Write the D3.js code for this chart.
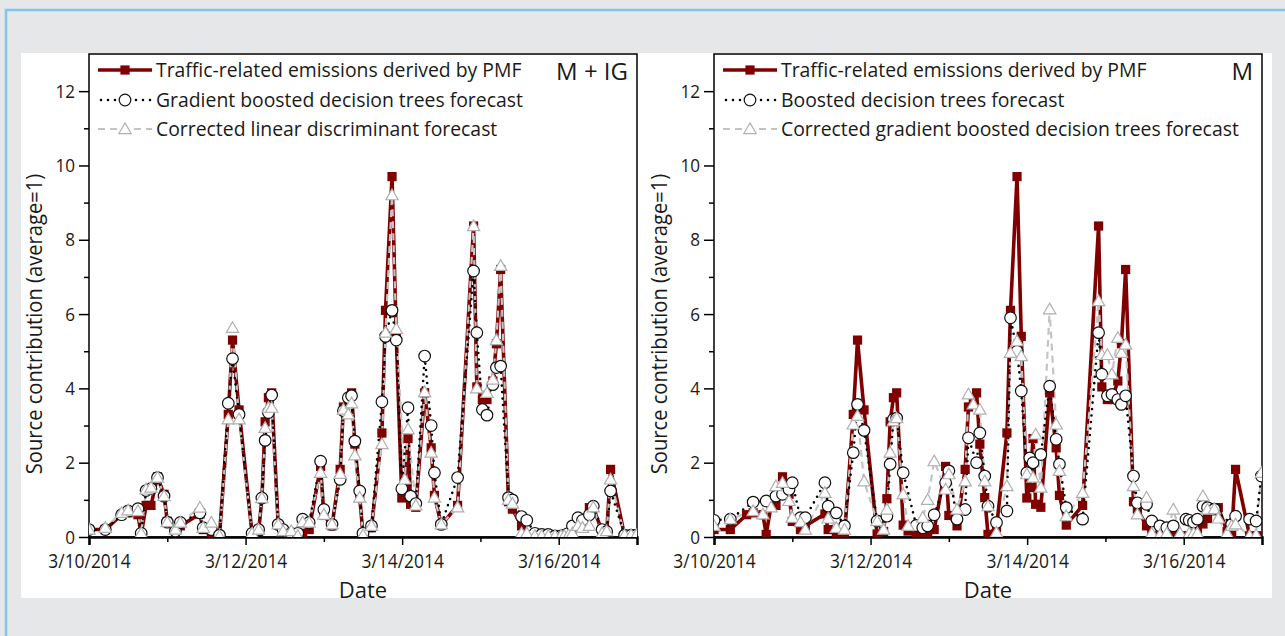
<!DOCTYPE html>
<html>
<head>
<meta charset="utf-8">
<script src="https://cdn.jsdelivr.net/npm/d3@7"></script>
<style>
  body { margin: 0; background: #e6e7e9; }
  text { font-family: "Open Sans", "Noto Sans", sans-serif; fill: #1a1a1a; }
</style>
</head>
<body>
<svg id="chart" width="1285" height="636"></svg>
<script>
// hours after 3/10/2014 00:00
const hours = [0, 5, 10, 12, 15, 16, 17.5, 19, 21, 23, 24, 26.5, 28, 34, 35, 37.5, 40, 42.7, 44, 46,
  50, 52, 53, 54, 55, 56, 58, 59.5, 62, 64, 65.5, 67.5, 71, 72, 74.5, 77, 78, 79.5, 80.5, 81.5,
  83, 84, 86.6, 89.8, 90.9, 92.9, 94.2, 95.9, 96.8, 97.8, 98.6, 100.2, 102.9, 104.9, 105.9, 108, 113, 117.9, 118.9, 120.6,
  122, 123.8, 124.9, 126.2, 128.6, 129.8, 132.6, 134.2, 136.7, 138.8, 140.8, 142.9, 144.7, 145.7, 147, 148.2, 149.9, 151.3, 153.4, 154.6,
  157.3, 158.7, 159.9, 164.2, 166.2, 167.8];

// traffic-related emissions derived by PMF (same in both panels)
const pmf = [0.2, 0.2, 0.6, 0.65, 0.6, 0.07, 0.85, 0.85, 1.62, 1.15, 0.42, 0.2, 0.3, 0.62, 0.2, 0.07, 0.03, 3.3, 5.3, 3.42,
  0.08, 0.15, 1.03, 3.1, 3.75, 3.88, 0.32, 0.16, 0.03, 0.03, 0.1, 0.2, 1.9, 0.58, 0.3, 1.82, 3.5, 3.6, 3.88, 2.5,
  1.06, 0.07, 0.25, 2.8, 6.1, 9.7, 5.4, 1.05, 1.33, 2.65, 0.88, 0.8, 3.88, 2.4, 1.12, 0.32, 0.85, 8.37, 4.04, 3.7,
  3.7, 4.2, 5.2, 7.2, 0.95, 0.75, 0.3, 0.03, 0.03, 0.03, 0.03, 0.03, 0.03, 0.03, 0.1, 0.2, 0.35, 0.5, 0.79, 0.79,
  0.15, 0.1, 1.82, 0.03, 0.03, 0.03];

// M + IG panel
const gbdtIG = [0.2, 0.2, 0.6, 0.7, 0.76, 0.1, 1.25, 1.3, 1.6, 1.1, 0.4, 0.16, 0.39, 0.65, 0.25, 0.2, 0.05, 3.6, 4.8, 3.3,
  0.1, 0.2, 1.05, 2.6, 3.35, 3.82, 0.34, 0.2, 0.1, 0.1, 0.48, 0.39, 2.04, 0.74, 0.34, 1.55, 3.4, 3.75, 3.8, 2.58,
  1.24, 0.1, 0.3, 3.64, 5.4, 6.1, 5.3, 1.3, null, 3.48, 1.1, 0.9, 4.87, 3.0, 1.73, 0.34, 1.6, 7.16, 5.5, 3.43,
  3.28, 4.1, 4.56, 4.6, 1.06, 1.0, 0.55, 0.45, 0.1, 0.07, 0.07, 0.03, 0.03, 0.05, 0.1, 0.3, 0.52, 0.45, 0.6, 0.83,
  0.2, 0.15, 1.24, 0.05, 0.05, 0.05];
const corrIG = [0.2, 0.25, 0.65, 0.72, 0.7, 0.1, 1.28, 1.33, 1.6, 1.1, 0.4, 0.2, 0.39, 0.79, 0.25, 0.39, 0.03, 3.17, 5.63, 3.17,
  0.1, 0.2, 1.05, 2.94, 3.48, 3.48, 0.34, 0.16, 0.16, 0.03, 0.4, 0.39, 1.73, 0.6, 0.34, 1.7, 3.43, 3.3, 3.6, 2.2,
  1.06, 0.05, 0.3, 2.5, 5.5, 9.2, 5.6, null, 1.55, 2.9, null, 0.85, 3.9, 2.27, 1.06, 0.34, 0.8, 8.37, 4.0, null,
  3.88, 4.24, 5.3, 7.3, 1.0, 0.9, 0.1, 0.1, 0.03, 0.03, 0.03, 0.03, 0.03, 0.03, 0.05, 0.1, 0.3, 0.25, 0.3, 0.8,
  0.1, 0.16, 1.55, 0.05, 0.05, 0.05];

// M panel
const bdtM = [0.45, 0.48, null, 0.94, null, 0.97, null, 1.1, 1.15, 1.28, 1.46, 0.52, 0.52, 1.46, 0.83, 0.65, 0.3, 2.27, 3.57, 2.87,
  0.43, null, 0.56, 1.96, 3.17, 3.2, 1.73, null, 0.31, 0.25, 0.3, 0.6, 1.46, 1.78, 0.48, 0.74, 2.67, null, 2.0, 2.8,
  1.64, 0.83, 0.39, 0.7, 5.9, 5.0, 3.93, 1.73, 2.13, 2.0, null, 2.22, 4.06, 2.63, 1.96, 0.79, 0.48, 5.5, 4.38, 3.8,
  3.84, 3.7, 3.57, 3.8, 1.64, 0.92, 0.88, 0.43, 0.3, 0.25, 0.3, null, 0.48, 0.45, 0.4, 0.48, 0.83, 0.79, 0.75, null,
  null, 0.34, 0.56, 0.48, 0.43, 1.64];
const corrM = [0.3, 0.48, null, 0.7, 0.61, null, 0.8, 1.37, 1.46, 0.97, 0.52, 0.4, 0.2, 1.19, 0.5, 0.25, 0.2, 3.03, 3.26, 1.5,
  0.43, 0.2, 0.74, 2.27, 3.12, 3.2, 1.15, 0.3, null, 0.52, 1.0, 2.04, 1.28, 1.69, 0.74, 1.5, 3.84, 3.57, null, 3.43,
  1.5, 0.83, 0.12, 1.37, 4.96, 5.27, 4.87, 1.69, null, 1.6, 2.76, 1.33, 6.13, 3.03, 1.78, 0.56, 1.19, 6.35, 4.9, 4.9,
  4.38, 5.36, 4.96, 5.18, 1.37, 0.61, 1.06, 0.1, 0.05, 0.1, 0.74, 0.1, null, 0.1, 0.1, 0.1, 1.1, 0.74, 0.75, 0.5,
  0.1, 0.3, 0.34, 0.03, 0.05, 1.73];

const yTicks = [0, 2, 4, 6, 8, 10, 12];
const xTickDates = ["2014-03-10", "2014-03-12", "2014-03-14", "2014-03-16"];
const xMinorDates = ["2014-03-11", "2014-03-13", "2014-03-15"];

const panels = [
  {left: 89, right: 637, tag: "M + IG",
   names: ["Traffic-related emissions derived by PMF", "Gradient boosted decision trees forecast", "Corrected linear discriminant forecast"],
   fc: gbdtIG, corr: corrIG},
  {left: 714, right: 1262, tag: "M",
   names: ["Traffic-related emissions derived by PMF", "Boosted decision trees forecast", "Corrected gradient boosted decision trees forecast"],
   fc: bdtM, corr: corrM}
];

const RED = "#800000", GREY = "#c4c4c4";
const t0 = new Date(2014, 2, 10);
const toDate = h => new Date(t0.getTime() + h * 3600e3);
const parse = d3.timeParse("%Y-%m-%d");
const fmt = d3.timeFormat("%-m/%-d/%Y");

// the original face is narrower than Open Sans: squeeze text horizontally
function squeeze(sel, k) {
  sel.each(function() {
    const w = this.getComputedTextLength();
    d3.select(this).attr("textLength", w * k).attr("lengthAdjust", "spacingAndGlyphs");
  });
}

const svg = d3.select("#chart");

// page frame
svg.append("rect").attr("width", 1285).attr("height", 636).attr("fill", "#e6e7e9");
svg.append("path").attr("d", "M6,636V10H1285").attr("fill", "none").attr("stroke", "#7cc8ee").attr("stroke-width", 2.5);
svg.append("rect").attr("x", 21).attr("y", 53).attr("width", 1251).attr("height", 545).attr("fill", "#fff");

const plotTop = 54, plotBottom = 537;
const y = d3.scaleLinear().domain([0, 13]).range([plotBottom, plotTop]);

const defs = svg.append("defs");

panels.forEach((p, pi) => {
  const x = d3.scaleTime().domain([t0, new Date(2014, 2, 17)]).range([p.left, p.right]);
  const g = svg.append("g");

  defs.append("clipPath").attr("id", "clip" + pi)
    .append("rect").attr("x", p.left).attr("y", plotTop).attr("width", p.right - p.left).attr("height", plotBottom - plotTop);

  // frame
  g.append("rect").attr("x", p.left).attr("y", plotTop).attr("width", p.right - p.left).attr("height", plotBottom - plotTop)
    .attr("fill", "none").attr("stroke", "#000").attr("stroke-width", 1.5);

  // y axis
  const yAx = g.append("g").attr("transform", "translate(" + p.left + ",0)")
    .call(d3.axisLeft(y).tickValues(yTicks).tickSize(10).tickPadding(4));
  yAx.select(".domain").remove();
  yAx.selectAll("line").attr("stroke-width", 1.5);
  yAx.selectAll("text").style("font-size", "19px").attr("fill", "#1a1a1a").call(squeeze, 0.9);
  g.append("g").attr("transform", "translate(" + p.left + ",0)")
    .call(d3.axisLeft(y).tickValues([1, 3, 5, 7, 9, 11]).tickSize(5).tickFormat(""))
    .call(a => a.select(".domain").remove())
    .selectAll("line").attr("stroke-width", 1.5);

  // x axis
  const xAx = g.append("g").attr("transform", "translate(0," + plotBottom + ")")
    .call(d3.axisBottom(x).tickValues(xTickDates.map(parse)).tickFormat(fmt).tickSize(8).tickPadding(9));
  xAx.select(".domain").attr("stroke-width", 2.5);
  xAx.selectAll("line").attr("stroke-width", 1.5);
  xAx.selectAll("text").style("font-size", "20px").attr("fill", "#1a1a1a").call(squeeze, 0.87);
  g.append("g").attr("transform", "translate(0," + plotBottom + ")")
    .call(d3.axisBottom(x).tickValues(xMinorDates.map(parse)).tickSize(5).tickFormat(""))
    .call(a => a.select(".domain").remove())
    .selectAll("line").attr("stroke-width", 1.5);

  // titles
  g.append("text").attr("x", (p.left + p.right) / 2).attr("y", 598)
    .attr("text-anchor", "middle").style("font-size", "22px").text("Date");
  g.append("text").attr("transform", "translate(" + (p.left - 47) + ",324) rotate(-90)")
    .attr("text-anchor", "middle").style("font-size", "21px").text("Source contribution (average=1)")
    .call(squeeze, 0.96);

  // data
  const plot = g.append("g").attr("clip-path", "url(#clip" + pi + ")");
  const pts = arr => hours.map((h, i) => ({t: toDate(h), v: arr[i]})).filter(d => d.v != null);
  const line = d3.line().x(d => x(d.t)).y(d => y(d.v));
  const dPmf = pts(pmf), dFc = pts(p.fc), dCorr = pts(p.corr);

  plot.append("path").datum(dPmf).attr("d", line).attr("fill", "none")
    .attr("stroke", RED).attr("stroke-width", 3.6).attr("stroke-linejoin", "round");
  plot.append("path").datum(dCorr).attr("d", line).attr("fill", "none")
    .attr("stroke", GREY).attr("stroke-width", 2.2).attr("stroke-dasharray", "7,5");
  plot.append("path").datum(dFc).attr("d", line).attr("fill", "none")
    .attr("stroke", "#000").attr("stroke-width", 2.6).attr("stroke-linecap", "round").attr("stroke-dasharray", "0,6.5");

  const sq = d3.symbol().type(d3.symbolSquare).size(85);
  const tri = d3.symbol().type(d3.symbolTriangle).size(66);

  plot.selectAll(".sq").data(dPmf).join("path").attr("class", "sq").attr("d", sq)
    .attr("transform", d => "translate(" + x(d.t) + "," + y(d.v) + ")").attr("fill", RED);
  plot.selectAll(".ci").data(dFc).join("circle").attr("class", "ci")
    .attr("cx", d => x(d.t)).attr("cy", d => y(d.v)).attr("r", 5.8)
    .attr("fill", "#fff").attr("stroke", "#111").attr("stroke-width", 1.2);
  plot.selectAll(".tr").data(dCorr).join("path").attr("class", "tr").attr("d", tri)
    .attr("transform", d => "translate(" + x(d.t) + "," + (y(d.v) + 1) + ")")
    .attr("fill", "#fff").attr("stroke", "#b0b0b0").attr("stroke-width", 1.2);

  // legend
  const lx0 = p.left + 9, lx1 = p.left + 63, lm = (lx0 + lx1) / 2;
  const rows = [70, 100, 129];
  const lg = g.append("g");
  lg.append("line").attr("x1", lx0).attr("x2", lx1).attr("y1", rows[0]).attr("y2", rows[0])
    .attr("stroke", RED).attr("stroke-width", 3.6);
  lg.append("path").attr("d", sq).attr("transform", "translate(" + lm + "," + rows[0] + ")").attr("fill", RED);
  lg.append("line").attr("x1", lx0 + 3).attr("x2", lx1).attr("y1", rows[1]).attr("y2", rows[1])
    .attr("stroke", "#000").attr("stroke-width", 2.6).attr("stroke-linecap", "round").attr("stroke-dasharray", "0,7");
  lg.append("circle").attr("cx", lm).attr("cy", rows[1]).attr("r", 5.8)
    .attr("fill", "#fff").attr("stroke", "#111").attr("stroke-width", 1.2);
  lg.append("line").attr("x1", lx0).attr("x2", lx1).attr("y1", rows[2]).attr("y2", rows[2])
    .attr("stroke", GREY).attr("stroke-width", 2.2).attr("stroke-dasharray", "7,5");
  lg.append("path").attr("d", tri).attr("transform", "translate(" + lm + "," + (rows[2] + 1) + ")")
    .attr("fill", "#fff").attr("stroke", "#b0b0b0").attr("stroke-width", 1.2);
  p.names.forEach((n, i) => {
    lg.append("text").attr("x", lx1 + 4).attr("y", rows[i]).attr("dy", "0.35em")
      .style("font-size", "20.5px").text(n).call(squeeze, 0.945);
  });
  g.append("text").attr("x", p.right - 9).attr("y", 72).attr("dy", "0.35em").attr("text-anchor", "end")
    .style("font-size", "24px").text(p.tag);
});
</script>
</body>
</html>
